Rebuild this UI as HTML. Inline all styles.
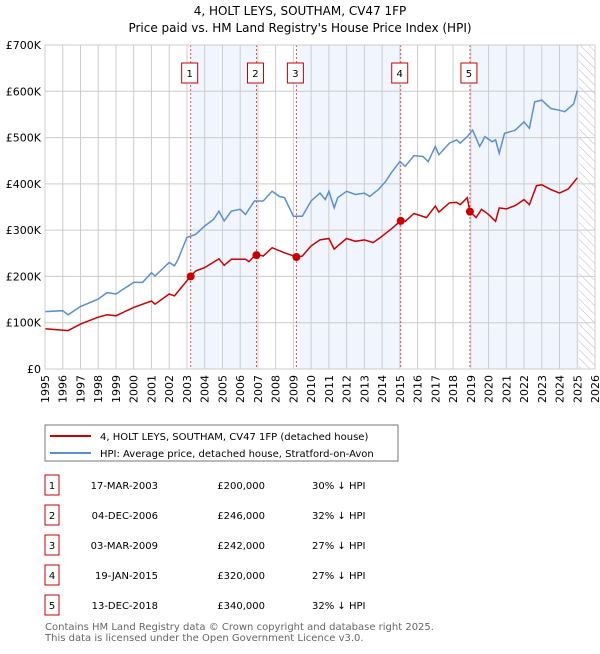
<!DOCTYPE html>
<html><head><meta charset="utf-8"><style>
body{margin:0;background:#fff;font-family:"DejaVu Sans","Liberation Sans",sans-serif;}
svg text{font-family:"DejaVu Sans","Liberation Sans",sans-serif;}
</style></head><body>
<svg id="c" width="600" height="650" xmlns="http://www.w3.org/2000/svg">
<defs><pattern id="hatch" width="6" height="6" patternUnits="userSpaceOnUse" patternTransform="rotate(-45)"><line x1="0" y1="0" x2="0" y2="6" stroke="#bbb" stroke-width="1"/></pattern></defs>
<text x="300" y="15" text-anchor="middle" font-size="12">4, HOLT LEYS, SOUTHAM, CV47 1FP</text>
<text x="300" y="32" text-anchor="middle" font-size="12">Price paid vs. HM Land Registry's House Price Index (HPI)</text>
<g id="plot"></g>
<rect x="45" y="425" width="353" height="36" fill="#fff" stroke="#777"/>
<line x1="50" y1="436" x2="91" y2="436" stroke="#cc0000" stroke-width="2"/>
<text x="100" y="440" font-size="10">4, HOLT LEYS, SOUTHAM, CV47 1FP (detached house)</text>
<line x1="50" y1="453" x2="91" y2="453" stroke="#5b8fd4" stroke-width="2"/>
<text x="100" y="457" font-size="10">HPI: Average price, detached house, Stratford-on-Avon</text>
<g id="table"></g>
<text x="45" y="630" font-size="10" fill="#666">Contains HM Land Registry data © Crown copyright and database right 2025.</text>
<text x="45" y="641" font-size="10" fill="#666">This data is licensed under the Open Government Licence v3.0.</text>
</svg>
<script>
const hpiT=[1995,1996,1996.3,1997,1998,1998.5,1999,2000,2000.5,2001,2001.2,2002,2002.3,2002.5,2003,2003.5,2004,2004.5,2004.8,2005.1,2005.5,2006,2006.3,2006.8,2007.3,2007.8,2008.2,2008.5,2009,2009.5,2010,2010.5,2010.8,2011,2011.3,2011.5,2012,2012.5,2013,2013.3,2013.8,2014.2,2014.5,2015,2015.3,2015.8,2016.3,2016.6,2017,2017.2,2017.8,2018.2,2018.4,2018.8,2019.1,2019.5,2019.8,2020.2,2020.4,2020.6,2020.9,2021.5,2022,2022.3,2022.6,2023,2023.5,2024,2024.3,2024.8,2025];
const hpiV=[124,126,117,135,151,165,162,187,187,208,201,230,223,237,284,291,309,323,341,320,341,345,334,363,363,384,373,370,330,330,363,380,366,384,348,370,384,377,380,373,388,405,423,448,438,461,459,448,481,463,488,495,488,502,516,481,502,491,495,466,509,516,534,520,577,581,563,559,556,573,602];
const propT=[1995,1996.3,1997,1998,1998.5,1999,2000,2001,2001.2,2002,2002.3,2003.2,2003.5,2004,2004.8,2005.1,2005.5,2006.3,2006.5,2006.9,2007.3,2007.8,2008.5,2009.2,2009.5,2010,2010.5,2011,2011.3,2011.5,2012,2012.5,2013,2013.5,2014,2014.5,2015.05,2015.3,2015.8,2016.5,2017,2017.2,2017.8,2018.2,2018.4,2018.8,2018.95,2019.3,2019.6,2020,2020.4,2020.6,2021,2021.5,2022,2022.3,2022.7,2023,2023.5,2024,2024.5,2025];
const propV=[87,83,97,112,117,115,133,147,140,162,158,200,212,219,238,224,237,237,232,248,244,262,251,242,244,266,279,282,259,266,282,276,279,273,287,302,320,319,336,327,352,339,359,360,355,370,340,327,345,334,319,348,346,353,366,355,396,398,388,380,389,413];
const saleT=[2003.21,2006.92,2009.17,2015.05,2018.95];
const saleV=[200,246,242,320,340];
const saleLabels=["1","2","3","4","5"];
const saleDates=["17-MAR-2003","04-DEC-2006","03-MAR-2009","19-JAN-2015","13-DEC-2018"];
const salePrices=["£200,000","£246,000","£242,000","£320,000","£340,000"];
const saleDiffs=["30% ↓ HPI","32% ↓ HPI","27% ↓ HPI","27% ↓ HPI","32% ↓ HPI"];
const yTicks=[0,100,200,300,400,500,600,700];
const yTickLabels=["£0","£100K","£200K","£300K","£400K","£500K","£600K","£700K"];
const xYears=[];for(let y=1995;y<=2026;y++)xYears.push(y);
const shadeSpans=[[2003.21,2006.92],[2009.17,2015.05],[2018.95,2025.1]];
const X0=45,X1=595,Y0=369,Y1=45;
const xs=t=>X0+(t-1995)/(2026-1995)*(X1-X0);
const ys=v=>Y0-v/700*(Y0-Y1);
const NS="http://www.w3.org/2000/svg";
const plot=document.getElementById('plot');
function mk(tag,attrs,parent,name,txt){const e=document.createElementNS(NS,tag);for(const k in attrs)e.setAttribute(k,attrs[k]);


if(txt!==undefined)e.textContent=txt;(parent||plot).appendChild(e);return e;}
shadeSpans.forEach((s,i)=>mk('rect',{x:xs(s[0]),y:Y1,width:xs(s[1])-xs(s[0]),height:Y0-Y1,fill:'#eef3fc',opacity:0.8},plot,'shade-region'));
mk('rect',{x:xs(2025.1),y:Y1,width:X1-xs(2025.1),height:Y0-Y1,fill:'url(#hatch)'},plot,'future-hatch');
xYears.forEach(y=>{mk('line',{x1:xs(y),x2:xs(y),y1:Y1,y2:Y0,stroke:'#ccc','stroke-width':1},plot,'x-gridline');
const t=mk('text',{x:0,y:0,'font-size':11,'text-anchor':'end',transform:`translate(${xs(y)+4},${Y0+6}) rotate(-90)`},plot,'x-tick-label',String(y));});
yTicks.forEach((v,i)=>{mk('line',{x1:X0,x2:X1,y1:ys(v),y2:ys(v),stroke:'#ccc','stroke-width':1},plot,'y-gridline');
mk('text',{x:X0-4,y:ys(v)+4,'font-size':11,'text-anchor':'end'},plot,'y-tick-label',yTickLabels[i]);});
saleT.forEach((t,i)=>{mk('line',{x1:xs(t),x2:xs(t),y1:Y1,y2:Y0,stroke:'#e05050','stroke-width':1,'stroke-dasharray':'2,2'},plot,'sale-marker-line');
mk('rect',{x:xs(t)-9,y:63,width:16,height:20,fill:'#fff',stroke:'#cc0000'},plot,'sale-marker-box');
mk('text',{x:xs(t)-1,y:77,'font-size':10,'text-anchor':'middle'},plot,'sale-marker-label',saleLabels[i]);});
const path=(T,V)=>T.map((t,i)=>(i?'L':'M')+xs(t).toFixed(1)+','+ys(V[i]).toFixed(1)).join('');
mk('path',{d:path(hpiT,hpiV),fill:'none',stroke:'#5b8fd4','stroke-width':1.5},plot,'hpi-line');
mk('path',{d:path(propT,propV),fill:'none',stroke:'#cc0000','stroke-width':1.5},plot,'property-line');
saleT.forEach((t,i)=>mk('circle',{cx:xs(t),cy:ys(saleV[i]),r:4,fill:'#cc0000'},plot,'sale-point'));
mk('rect',{x:X0,y:Y1,width:X1-X0,height:Y0-Y1,fill:'none',stroke:'#ccc'},plot,'plot-border');
const tb=document.getElementById('table');
saleT.forEach((t,i)=>{const y=485+i*30;
mk('rect',{x:45,y:y-10,width:14,height:20,fill:'#fff',stroke:'#cc0000'},tb,'table-number-box');
mk('text',{x:52,y:y+4,'font-size':10,'text-anchor':'middle'},tb,'table-number',saleLabels[i]);
mk('text',{x:158,y:y+4,'font-size':10,'text-anchor':'end'},tb,'table-date',saleDates[i]);
mk('text',{x:265,y:y+4,'font-size':10,'text-anchor':'end'},tb,'table-price',salePrices[i]);
mk('text',{x:312,y:y+4,'font-size':10},tb,'table-hpi-diff',saleDiffs[i]);});
</script>
</body></html>
